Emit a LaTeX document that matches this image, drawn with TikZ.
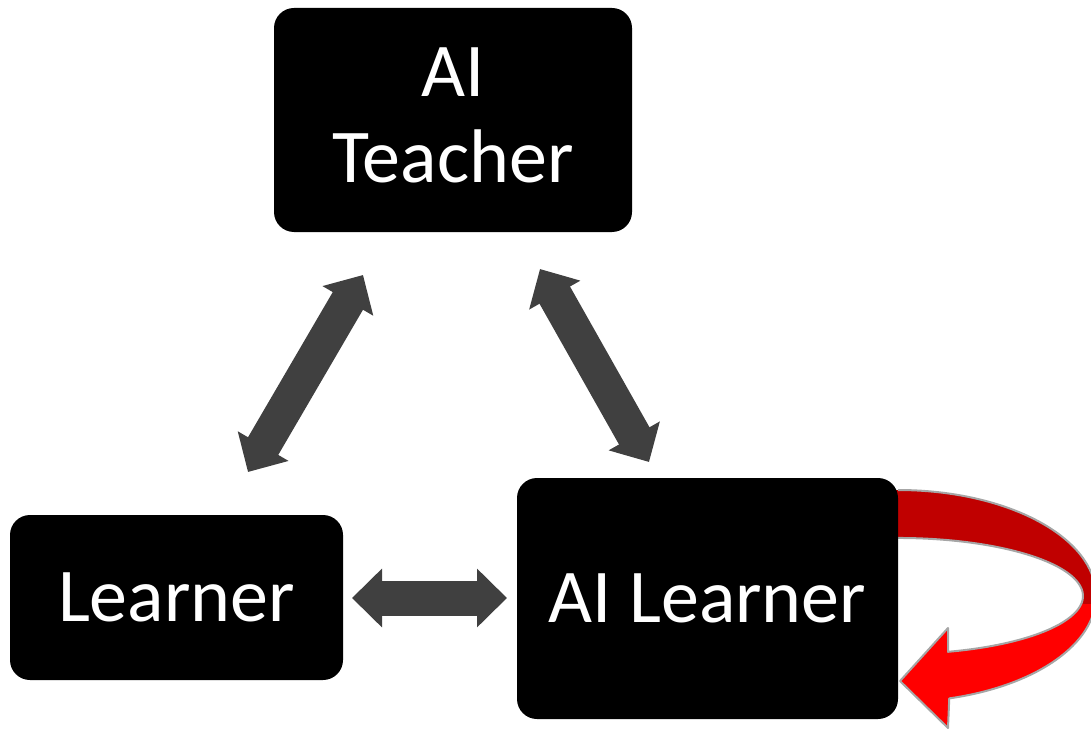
\documentclass[tikz,border=0pt]{standalone}
\usepackage{fontspec}
\setmainfont{Carlito}
\usetikzlibrary{arrows.meta}
\definecolor{boxblack}{HTML}{000000}
\definecolor{arrowgray}{HTML}{404040}
\definecolor{darkred}{HTML}{C00000}
\definecolor{brightred}{HTML}{FF0000}
\definecolor{outlinegray}{HTML}{A6A6A6}
\newcommand{\selfloopshape}{(895,490) -- (898,490) arc[start angle=-90, end angle=75, x radius=198, y radius=106] -- (948,728) -- (900,681) -- (948,628) -- (948,651.8) arc[start angle=74.3, end angle=-90, x radius=185, y radius=58] -- (895,538) -- cycle}
\begin{document}
\begin{tikzpicture}[x=1pt,y=-1pt,
  blackbox/.style={fill=boxblack, rounded corners=20pt, text=white, inner sep=0pt,
    font=\fontsize{76}{86}\selectfont, align=center},
  biarrow/.style={draw=arrowgray, line width=35pt,
    {Triangle[width=57pt 0,length=30pt 0]}-{Triangle[width=57pt 0,length=30pt 0]}}
]
\useasboundingbox (0,0) rectangle (1091,730);
% self loop (red curved arrow)
\fill[brightred] \selfloopshape;
\begin{scope}
  \clip (880,460) rectangle (1100,603);
  \fill[darkred] \selfloopshape;
\end{scope}
\draw[outlinegray, line width=2pt, line join=round] (898,490) arc[start angle=-90, end angle=75, x radius=198, y radius=106] -- (948,728) -- (900,681) -- (948,628) -- (948,651.8) arc[start angle=74.3, end angle=-90, x radius=185, y radius=58];
% boxes
\node[blackbox, minimum width=358pt, minimum height=224pt, text depth=10pt] (teacher) at (453,120) {AI\\Teacher};
\node[blackbox, minimum width=333pt, minimum height=165pt] (learner) at (176.5,597.5) {Learner};
\node[blackbox, minimum width=381pt, minimum height=241pt] (ailearner) at (707.5,598.5) {AI Learner};
% arrow ends
\coordinate (l1) at (248,472);
\coordinate (t1) at (363,275);
\coordinate (t2) at (540,269);
\coordinate (a2) at (649,462);
\coordinate (l3) at (352,598);
\coordinate (a3) at (507,598);
\draw[biarrow] (l1) -- (t1);
\draw[biarrow] (t2) -- (a2);
\draw[biarrow] (l3) -- (a3);
\end{tikzpicture}
\end{document}
